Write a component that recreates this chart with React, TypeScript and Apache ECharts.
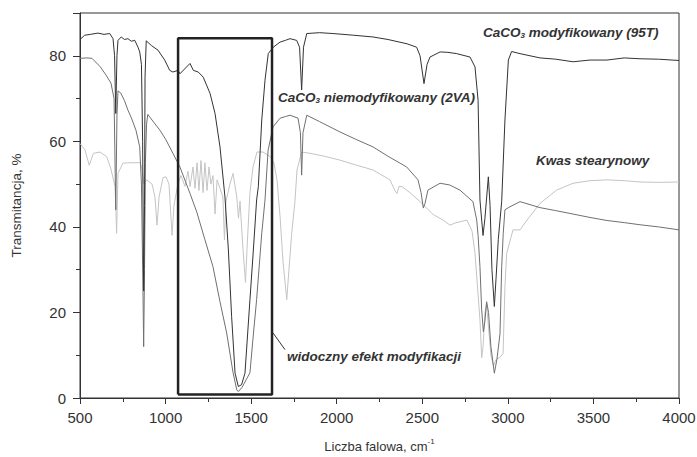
import React, { useEffect, useRef } from "react";
import * as echarts from "echarts";

// [wavenumber cm-1, transmittance %]
const modified95T: [number, number][] = [
  [500, 83.8], [527, 84.8], [560, 85.0], [605, 85.3], [640, 85.0], [674, 85.2], [693, 84], [702, 80], [709, 66.5], [716, 80],
  [722, 83.6], [741, 84.4], [760, 83.8], [780, 84], [800, 83.4], [820, 83.6], [839, 82], [849, 80.9], [859, 78], [866, 60],
  [872, 25], [877, 45], [880, 75], [887, 83.5], [917, 82.4], [956, 81.3], [995, 79], [1024, 76.6], [1043, 76.2], [1073, 76.6],
  [1084, 75.8], [1123, 77.4], [1143, 78.2], [1162, 76.6], [1191, 76.2], [1220, 75], [1260, 71.2], [1289, 66.5], [1318, 58.7],
  [1347, 47], [1367, 34.6], [1386, 19], [1406, 5.8], [1425, 2.7], [1444, 3.1], [1464, 5.8], [1493, 23], [1513, 34.6],
  [1532, 46.3], [1542, 49.4], [1562, 65], [1581, 74.3], [1600, 80.5], [1629, 82], [1669, 83.2], [1700, 83.6], [1727, 84],
  [1766, 83.6], [1783, 82], [1795, 72], [1806, 82], [1825, 85.2], [1900, 85.4], [1978, 85.2], [2100, 84.8], [2212, 84.4],
  [2300, 83.8], [2411, 82.8], [2467, 82], [2487, 80], [2510, 73.5], [2528, 78], [2545, 79.7], [2604, 80.9], [2650, 80.8],
  [2701, 80.5], [2779, 79.7], [2808, 77.4], [2826, 69.6], [2837, 46.3], [2847, 41.6], [2855, 38], [2866, 42], [2886, 51.7],
  [2896, 45], [2907, 30], [2921, 21.4], [2931, 28], [2944, 37], [2964, 46], [2983, 65], [3003, 79], [3022, 81], [3071, 80.5],
  [3188, 79.5], [3280, 79.2], [3381, 78.6], [3480, 79.0], [3579, 79], [3680, 79.5], [3772, 79.3], [3880, 79.2], [4000, 78.9],
];

const unmodified2VA: [number, number][] = [
  [500, 79.4], [540, 79.5], [570, 79.4], [617, 77.5], [652, 75.5], [681, 73.6], [699, 70], [709, 44], [716, 66], [722, 71.8],
  [738, 71.3], [760, 69.5], [780, 67.3], [800, 65.5], [827, 62.6], [849, 58.7], [859, 50], [868, 25], [872, 12], [877, 30],
  [882, 55], [889, 64], [896, 66.3], [930, 64.5], [967, 62.6], [1000, 60.5], [1043, 57.2], [1084, 54], [1143, 47.8],
  [1182, 43.5], [1230, 37], [1277, 30.7], [1318, 22.5], [1357, 15.2], [1394, 6], [1416, 1.9], [1425, 1.5], [1447, 2.5],
  [1493, 5.9], [1511, 14], [1532, 23], [1562, 38.5], [1581, 46.3], [1599, 57.9], [1628, 63.4], [1669, 65.4], [1700, 65.8],
  [1727, 66.1], [1774, 65.4], [1788, 62], [1795, 52.1], [1803, 62], [1825, 66.1], [1900, 64.6], [2019, 62.2], [2110, 60.5],
  [2212, 58.7], [2300, 56.5], [2409, 54], [2475, 51], [2493, 48], [2506, 44.4], [2516, 45.5], [2533, 48.6], [2604, 50.2],
  [2660, 49.8], [2720, 48.6], [2796, 45.9], [2818, 41.6], [2826, 38], [2837, 30.7], [2847, 20.6], [2857, 15.5], [2866, 18],
  [2876, 22.5], [2887, 20], [2901, 12], [2921, 5.8], [2936, 9], [2954, 15], [2964, 30.7], [2973, 38.5], [2983, 44],
  [3012, 44.7], [3071, 45.9], [3188, 44.5], [3280, 43.8], [3381, 43], [3480, 42.2], [3579, 41.5], [3680, 41], [3772, 40.5],
  [3880, 40], [4000, 39.3],
];

const stearicAcid: [number, number][] = [
  [500, 59.5], [529, 58], [554, 54.4], [578, 57.2], [617, 57.5], [656, 56.4], [681, 53.5], [705, 49.4], [714, 38.5],
  [722, 52.5], [751, 54.9], [792, 55], [851, 55], [860, 54], [874, 50], [889, 51], [921, 50], [938, 47], [950, 40.4],
  [962, 47], [985, 51.5], [1003, 51.7], [1020, 50], [1038, 38], [1049, 45], [1073, 50.2], [1090, 52], [1113, 49.5],
  [1131, 53], [1143, 49.4], [1160, 54], [1172, 49], [1184, 55], [1195, 48.5], [1207, 55.5], [1219, 48], [1230, 55],
  [1242, 48.5], [1254, 54], [1265, 50], [1277, 52], [1289, 43], [1301, 51], [1318, 49], [1335, 47], [1344, 37],
  [1353, 46], [1376, 50], [1394, 52.5], [1416, 47], [1426, 42], [1435, 46], [1452, 35], [1467, 27], [1476, 35],
  [1493, 48], [1511, 54], [1534, 57.5], [1569, 57.5], [1610, 56.5], [1633, 55], [1651, 51], [1669, 42.4], [1686, 32],
  [1708, 23], [1721, 30], [1737, 38.5], [1756, 46], [1768, 53.3], [1795, 57.5], [1844, 57.2], [1930, 56.5], [2019, 55.6],
  [2110, 54.5], [2212, 53.3], [2311, 51], [2340, 48.5], [2352, 47.8], [2364, 49.5], [2382, 49.4], [2428, 48], [2487, 45.9],
  [2563, 42.9], [2621, 41.6], [2662, 40.4], [2691, 40.9], [2761, 41.6], [2791, 39], [2808, 33.8], [2837, 18.3],
  [2847, 9.4], [2855, 12], [2866, 20], [2875, 22], [2884, 18], [2901, 10], [2916, 7.5], [2931, 9], [2954, 9.5],
  [2972, 10.4], [2983, 26], [2993, 33.8], [3030, 39.3], [3071, 39.3], [3112, 41.6], [3188, 45.5], [3285, 48.6],
  [3381, 50.2], [3480, 50.8], [3579, 51], [3680, 50.8], [3772, 50.5], [3880, 50.4], [4000, 50.5],
];

// highlighted region (box) and its leader line
const boxCorners: [number, number][] = [[1073, 0.8], [1073, 84.1], [1622, 84.1], [1622, 0.8], [1073, 0.8]];
const leader: [number, number][] = [[1628, 15.2], [1698, 11.3]];

const xTicks = { min: 500, max: 4000, interval: 500 };
const yTicks = { min: 0, max: 90, interval: 20 };

const FONT = '"Liberation Sans", Arial, sans-serif';

function label(parts: string, left: number, top: number) {
  return {
    type: "text",
    left,
    top,
    silent: true,
    style: {
      text: parts,
      fill: "#333",
      font: `italic bold 13.5px ${FONT}`,
      rich: {
        a: { fontStyle: "italic", fontWeight: "bold", fontSize: 13.5, fontFamily: FONT, fill: "#333", lineHeight: 19, verticalAlign: "bottom" },
        s: { fontStyle: "italic", fontWeight: "bold", fontSize: 8, fontFamily: FONT, fill: "#333", lineHeight: 10, verticalAlign: "bottom" },
      },
    },
  };
}

export default function App() {
  const ref = useRef<HTMLDivElement>(null);
  useEffect(() => {
    if (!ref.current) return;
    document.body.style.margin = "0";
    const chart = echarts.init(ref.current, null, { renderer: "svg" });
    const thin = (color: string, data: [number, number][], z: number) => ({
      type: "line",
      data,
      symbol: "none",
      silent: true,
      z,
      lineStyle: { color, width: 1 },
    });
    chart.setOption({
      animation: false,
      grid: {
        left: 80, right: 18, top: 13, bottom: 59,
        containLabel: false, outerBoundsMode: "none",
        show: true, borderColor: "#333", borderWidth: 1,
      },
      xAxis: {
        type: "value",
        ...xTicks,
        name: "{a|Liczba falowa, cm}{s|-1}",
        nameLocation: "middle",
        nameGap: 39,
        nameTextStyle: {
          rich: {
            a: { fontSize: 13, fontFamily: FONT, color: "#333", lineHeight: 16, verticalAlign: "bottom" },
            s: { fontSize: 8, fontFamily: FONT, color: "#333", lineHeight: 8, verticalAlign: "top" },
          },
        },
        axisLine: { lineStyle: { color: "#333", width: 1 } },
        axisTick: { inside: false, length: 6, lineStyle: { color: "#333" } },
        minorTick: { show: true, splitNumber: 2, length: 4, lineStyle: { color: "#333" } },
        splitLine: { show: false },
        axisLabel: { fontSize: 15, fontFamily: FONT, color: "#333", margin: 12, formatter: (v: number) => String(v) },
      },
      yAxis: {
        type: "value",
        ...yTicks,
        name: "Transmitancja, %",
        nameLocation: "middle",
        nameGap: 57,
        nameTextStyle: { fontSize: 13.5, fontFamily: FONT, color: "#333" },
        axisLine: { show: true, lineStyle: { color: "#333", width: 1 } },
        axisTick: { show: true, length: 7, lineStyle: { color: "#333" } },
        minorTick: { show: true, splitNumber: 2, length: 4, lineStyle: { color: "#333" } },
        splitLine: { show: false },
        axisLabel: {
          fontSize: 15,
          fontFamily: FONT,
          color: "#333",
          margin: 14,
          formatter: (v: number) => (v === 90 ? "" : String(v)),
        },
      },
      series: [
        thin("#c4c4c4", stearicAcid, 2),
        thin("#707070", unmodified2VA, 3),
        thin("#333333", modified95T, 4),
        {
          type: "line",
          data: boxCorners,
          symbol: "none",
          silent: true,
          z: 5,
          lineStyle: { color: "#222", width: 2.5 },
        },
        {
          type: "line",
          data: leader,
          symbol: "none",
          silent: true,
          z: 5,
          lineStyle: { color: "#333", width: 1 },
        },
      ],
      graphic: [
        label("{a|CaCO}{s|3}{a| modyfikowany (95T)}", 483, 25),
        label("{a|CaCO}{s|3}{a| niemodyfikowany (2VA)}", 278, 90),
        label("{a|Kwas stearynowy}", 536, 153),
        label("{a|widoczny efekt modyfikacji}", 287, 349),
      ],
    });
    return () => chart.dispose();
  }, []);
  return <div ref={ref} style={{ width: 697, height: 457 }} />;
}
